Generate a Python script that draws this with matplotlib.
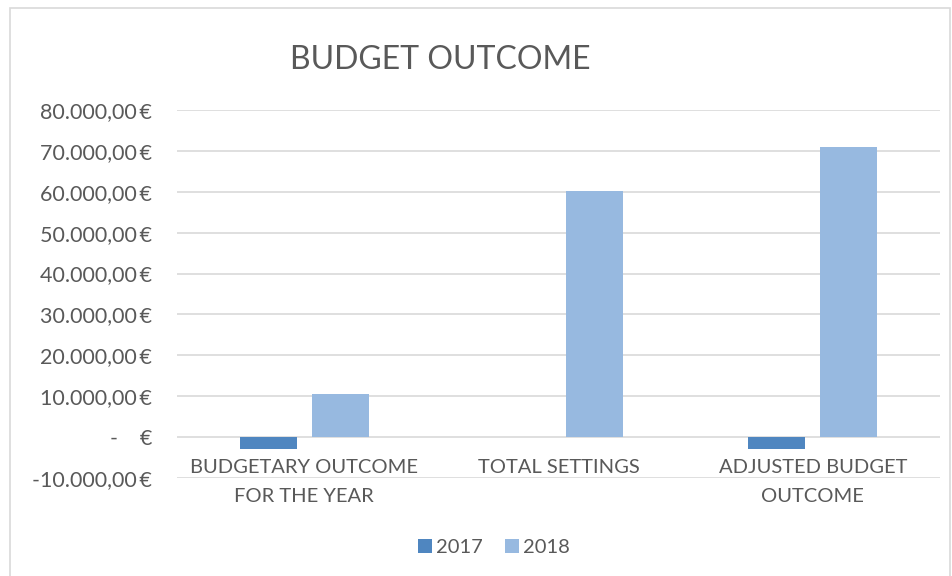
import matplotlib.pyplot as plt
import matplotlib.ticker as mticker
from matplotlib.patches import Rectangle
import numpy as np

categories = ['BUDGETARY OUTCOME\nFOR THE YEAR', 'TOTAL SETTINGS', 'ADJUSTED BUDGET\nOUTCOME']
values_2017 = [-2900, 0, -2900]
values_2018 = [10500, 60200, 71000]
yticks = list(range(-10000, 80001, 10000))

plt.rcParams['font.family'] = ['Lato', 'DejaVu Sans']
text_color = '#595959'

fig = plt.figure(figsize=(9.53, 5.76), dpi=100)
fig.patches.append(Rectangle((0.011, -0.01), 0.986, 0.996, transform=fig.transFigure,
                             fill=False, edgecolor='#D9D9D9', linewidth=1.2))
ax = fig.add_axes([0.1857, 0.1705, 0.8007, 0.6383])

x = np.arange(len(categories))
w = 0.224
ax.bar(x - 0.1415, values_2017, w, color='#4F86C0', label='2017', zorder=3)
ax.bar(x + 0.1415, values_2018, w, color='#97B9E0', label='2018', zorder=3)

ax.set_xlim(-0.5, 2.5)
ax.set_ylim(-10000, 80000)
ax.set_yticks(yticks)

def euro(v, pos):
    if v == 0:
        return '-    €'
    s = f'{v:,.2f}'.replace(',', 'X').replace('.', ',').replace('X', '.')
    return s + '\u2009€'

ax.yaxis.set_major_formatter(mticker.FuncFormatter(euro))
ax.tick_params(axis='y', length=0, pad=18, labelsize=15.5, labelcolor=text_color)
ax.set_xticks([])
ax.grid(axis='y', color='#D9D9D9', linewidth=1.2, zorder=0)
for s in ax.spines.values():
    s.set_visible(False)

for i, c in enumerate(categories):
    ax.annotate(c, (i, 0), xytext=(0, -16), textcoords='offset points',
                ha='center', va='top', fontsize=14.5, color=text_color,
                linespacing=1.85)

fig.text(0.462, 0.895, 'BUDGET OUTCOME', ha='center', va='center',
         fontsize=23, color=text_color)

leg = fig.legend(loc='center', bbox_to_anchor=(0.518, 0.05), ncol=2, frameon=False,
                 fontsize=14.5, handlelength=0.7, handleheight=0.7,
                 handletextpad=0.2, columnspacing=1.1)
for t in leg.get_texts():
    t.set_color(text_color)

fig.savefig('out.png', dpi=100)
